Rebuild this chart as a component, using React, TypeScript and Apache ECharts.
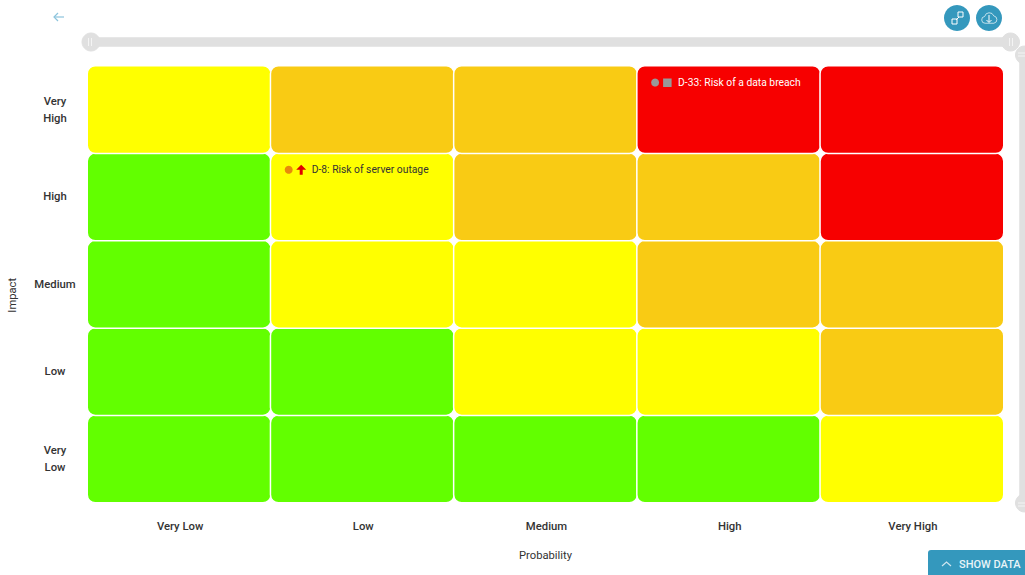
import React, { useEffect, useRef } from "react";
import * as echarts from "echarts";

const probabilityLabels = ["Very Low", "Low", "Medium", "High", "Very High"];
const impactLabels = ["Very\nLow", "Low", "Medium", "High", "Very\nHigh"];
const levelColors = ["#62ff00", "#ffff00", "#f9cb14", "#f70000"];
// rows run bottom-up: Very Low impact first
const impactVeryLow = [0, 0, 0, 0, 1];
const impactLow = [0, 0, 1, 1, 2];
const impactMedium = [0, 1, 1, 2, 2];
const impactHigh = [0, 1, 2, 2, 3];
const impactVeryHigh = [1, 2, 2, 3, 3];
const levelRows = [impactVeryLow, impactLow, impactMedium, impactHigh, impactVeryHigh];

const riskLabels = ["D-8: Risk of server outage", "D-33: Risk of a data breach"];
const riskProbability = [1, 3];
const riskImpact = [3, 4];
const riskDotColors = ["#e8890c", "#999999"];
const riskIconColors = ["#e00000", "#999999"];
const riskIcons = ["arrow", "square"];
const riskTextColors = ["#333333", "#ffffff"];

const FONT = "Roboto";
const BLUE = "#3498bd";
const TEXT = "#333333";

const cloudPath =
  "M6 18a5 5 0 0 1-.6-9.96A7 7 0 0 1 18.8 7.2 5.5 5.5 0 0 1 19 18Z";
echarts.graphic.registerShape("cloud", echarts.graphic.extendPath(cloudPath, {}));

export default function App() {
  const ref = useRef<HTMLDivElement>(null);
  useEffect(() => {
    const chart = echarts.init(ref.current!, null, { renderer: "svg" });
    const cells: number[][] = [];
    levelRows.forEach((row, y) => row.forEach((v, x) => cells.push([x, y, v])));
    const stroke = { stroke: "#fff", lineWidth: 1, fill: "none" };
    const bar = { stroke: "#f4f4f4", lineWidth: 1 };
    chart.setOption({
      animation: false,
      grid: { left: 87.5, right: 21.5, top: 66, bottom: 72.5, outerBoundsMode: "none" },
      xAxis: {
        type: "category",
        data: probabilityLabels,
        name: "Probability",
        nameLocation: "middle",
        nameGap: 47,
        nameTextStyle: { fontFamily: FONT, fontSize: 11.2, color: TEXT },
        axisLine: { show: false },
        axisTick: { show: false },
        splitLine: { show: false },
        axisLabel: { fontFamily: FONT, fontSize: 11.3, fontWeight: 500, color: TEXT, margin: 18, interval: 0, padding: [0, 0, 0, 2] },
      },
      yAxis: {
        type: "category",
        data: impactLabels,
        name: "Impact",
        nameLocation: "middle",
        nameGap: 70,
        nameTextStyle: { fontFamily: FONT, fontSize: 11.2, color: TEXT, padding: [0, 22, 0, 0] },
        axisLine: { show: false },
        axisTick: { show: false },
        splitLine: { show: false },
        axisLabel: {
          fontFamily: FONT, fontSize: 11.3, fontWeight: 500, color: TEXT,
          align: "center", margin: 32.5, lineHeight: 17, interval: 0, padding: [7, 0, 0, 0],
        },
      },
      visualMap: {
        show: false,
        type: "piecewise",
        dimension: 2,
        pieces: levelColors.map((color, i) => ({ value: i, color })),
      },
      dataZoom: [
        {
          type: "slider", xAxisIndex: 0, left: 88.5, right: 15, top: 37.5, height: 9,
          start: 0, end: 100, showDetail: false, showDataShadow: false, brushSelect: false,
          moveHandleSize: 0, handleIcon: "circle", handleSize: 18,
          handleStyle: { color: "#e0e0e0", borderColor: "#e0e0e0" },
          fillerColor: "#e0e0e0", backgroundColor: "#e0e0e0", borderColor: "transparent",
        },
        {
          type: "slider", yAxisIndex: 0, left: 1019, width: 10, top: 54, bottom: 71,
          start: 0, end: 100, showDetail: false, showDataShadow: false, brushSelect: false,
          moveHandleSize: 0, handleIcon: "circle", handleSize: 18,
          handleStyle: { color: "#e0e0e0", borderColor: "#e0e0e0" },
          fillerColor: "#e0e0e0", backgroundColor: "#e0e0e0", borderColor: "transparent",
        },
      ],
      series: [
        {
          type: "heatmap",
          data: cells,
          itemStyle: { borderColor: "#fff", borderWidth: 1.5, borderRadius: 8 },
          emphasis: { disabled: true },
          label: { show: false },
        },
        {
          type: "custom",
          coordinateSystem: "cartesian2d",
          encode: { x: 0, y: 1 },
          data: riskLabels.map((_, i) => [riskProbability[i], riskImpact[i], i]),
          clip: false,
          z: 5,
          renderItem: (params: any, api: any) => {
            const i = api.value(2);
            const c = api.coord([api.value(0), api.value(1)]);
            const s = api.size([1, 1]);
            const left = c[0] - s[0] / 2 + 0.5;
            const cy = c[1] - s[1] / 2 + 16.5;
            const color = riskIconColors[i];
            const icon =
              riskIcons[i] === "arrow"
                ? {
                    type: "polygon",
                    shape: {
                      points: [
                        [left + 30, cy - 5], [left + 35, cy], [left + 31.5, cy],
                        [left + 31.5, cy + 5], [left + 28.5, cy + 5], [left + 28.5, cy], [left + 25, cy],
                      ],
                    },
                    style: { fill: color },
                  }
                : {
                    type: "rect",
                    shape: { x: left + 25.5, y: cy - 4, width: 8.5, height: 8.5 },
                    style: { fill: color },
                  };
            return {
              type: "group",
              children: [
                { type: "circle", shape: { cx: left + 17.5, cy, r: 4 }, style: { fill: riskDotColors[i] } },
                icon,
                {
                  type: "text",
                  style: {
                    x: left + 40.5, y: cy, text: riskLabels[i], fill: riskTextColors[i],
                    font: `10.3px ${FONT}`, textAlign: "left", textVerticalAlign: "middle",
                  },
                },
              ],
            };
          },
        },
      ],
      graphic: [
        { type: "polyline", shape: { points: [[54, 17], [64, 17]] }, style: { stroke: "#8cc4dc", lineWidth: 1.2, fill: "none" } },
        { type: "polyline", shape: { points: [[58, 13], [54, 17], [58, 21]] }, style: { stroke: "#8cc4dc", lineWidth: 1.2, fill: "none" } },
        { type: "circle", shape: { cx: 957, cy: 18, r: 13 }, style: { fill: BLUE } },
        { type: "circle", shape: { cx: 989, cy: 18, r: 13 }, style: { fill: BLUE } },
        { type: "rect", shape: { x: 952, y: 19, width: 5, height: 5 }, style: stroke },
        { type: "rect", shape: { x: 958, y: 12, width: 5, height: 5 }, style: stroke },
        { type: "line", shape: { x1: 956, y1: 20, x2: 959, y2: 17 }, style: stroke },
        { type: "cloud", x: 981, y: 11, scaleX: 0.68, scaleY: 0.68, style: { ...stroke } },
        { type: "line", shape: { x1: 989, y1: 15, x2: 989, y2: 22 }, style: stroke },
        { type: "polyline", shape: { points: [[986.5, 20], [989, 22.5], [991.5, 20]] }, style: stroke },
        { type: "line", z: 100, shape: { x1: 88.5, y1: 38, x2: 88.5, y2: 46 }, style: bar },
        { type: "line", z: 100, shape: { x1: 91.5, y1: 38, x2: 91.5, y2: 46 }, style: bar },
        { type: "line", z: 100, shape: { x1: 1009.5, y1: 38, x2: 1009.5, y2: 46 }, style: bar },
        { type: "line", z: 100, shape: { x1: 1012.5, y1: 38, x2: 1012.5, y2: 46 }, style: bar },
        { type: "line", z: 100, shape: { x1: 1018, y1: 53, x2: 1025, y2: 53 }, style: bar },
        { type: "line", z: 100, shape: { x1: 1018, y1: 56, x2: 1025, y2: 56 }, style: bar },
        { type: "line", z: 100, shape: { x1: 1018, y1: 503, x2: 1025, y2: 503 }, style: bar },
        { type: "line", z: 100, shape: { x1: 1018, y1: 506, x2: 1025, y2: 506 }, style: bar },
        { type: "rect", shape: { x: 928, y: 550, width: 100, height: 30, r: 3 }, style: { fill: BLUE } },
        { type: "polyline", shape: { points: [[942, 566], [946.5, 562], [951, 566]] }, style: { stroke: "#cfe6f0", lineWidth: 1.2, fill: "none" } },
        {
          type: "text",
          style: { x: 959, y: 564, text: "SHOW DATA", fill: "#e8f4f8", font: `500 11px ${FONT}`, textAlign: "left", textVerticalAlign: "middle" },
        },
      ],
    });
    return () => chart.dispose();
  }, []);
  return (
    <div
      ref={ref}
      style={{ position: "absolute", left: 0, top: 0, width: 1025, height: 575, background: "#fff" }}
    />
  );
}
